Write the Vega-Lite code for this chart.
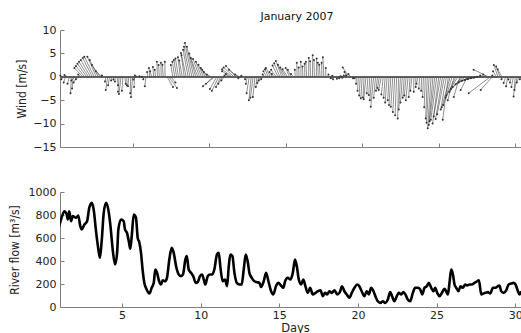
{
"$schema": "https://vega.github.io/schema/vega-lite/v6.json",
"background": "white",
"padding": {"left": 7, "top": 11, "right": 0, "bottom": 0},
"spacing": 45,
"bounds": "flush",
"config": {
  "view": {"stroke": null},
  "axis": {"domainColor": "#808080", "tickColor": "#808080", "tickSize": -4, "labelFont": "DejaVu Sans", "labelFontSize": 11, "labelColor": "#222", "labelOverlap": false, "labelFlush": false, "grid": false, "titleFont": "Liberation Sans Narrow, DejaVu Sans Condensed, Roboto, sans-serif", "titleFontSize": 12, "titleFontWeight": "normal", "titleColor": "#222"}
},
"datasets": {
"wind": [
{"t":0.375,"e":0.28,"v":0.3},{"t":0.5,"e":0.35,"v":-0.5},{"t":0.625,"e":0.5,"v":-1.2},{"t":0.75,"e":0.55,"v":0.4},{"t":0.875,"e":0.75,"v":-1.5},{"t":1.0,"e":0.95,"v":-3.5},{"t":1.125,"e":1.05,"v":-2.5},{"t":1.25,"e":1.0,"v":-0.8},{"t":1.375,"e":1.15,"v":-1.2},{"t":1.5,"e":1.3,"v":-0.5},{"t":1.625,"e":1.45,"v":0.5},
{"t":1.75,"e":1.2,"v":1.9},{"t":1.875,"e":1.3,"v":2.3},{"t":2.0,"e":1.4,"v":2.8},{"t":2.125,"e":1.5,"v":3.2},{"t":2.25,"e":1.62,"v":3.6},{"t":2.375,"e":1.75,"v":4.0},{"t":2.5,"e":1.85,"v":4.3},{"t":2.625,"e":2.05,"v":4.3},{"t":2.75,"e":2.2,"v":3.6},{"t":2.875,"e":2.35,"v":2.5},{"t":3.0,"e":2.6,"v":1.2},{"t":3.125,"e":3.0,"v":0.3},
{"t":3.25,"e":3.2,"v":-1.0},{"t":3.375,"e":3.25,"v":-2.8},{"t":3.5,"e":3.4,"v":-1.8},{"t":3.625,"e":3.6,"v":-0.8},{"t":3.75,"e":3.75,"v":-0.6},{"t":3.875,"e":3.85,"v":-1.0},{"t":4.0,"e":4.05,"v":-1.8},{"t":4.125,"e":4.05,"v":-3.2},{"t":4.25,"e":4.11,"v":-3.7},{"t":4.375,"e":4.3,"v":-3.0},{"t":4.5,"e":4.55,"v":-1.5},{"t":4.625,"e":4.63,"v":-1.8},{"t":4.75,"e":4.7,"v":-2.0},{"t":4.875,"e":4.85,"v":-3.5},{"t":5.0,"e":4.9,"v":-4.3},{"t":5.125,"e":5.1,"v":-2.2},{"t":5.25,"e":5.05,"v":-0.6},{"t":5.375,"e":5.15,"v":0.3},{"t":5.5,"e":5.45,"v":0.1},{"t":5.625,"e":5.6,"v":0},
{"t":5.75,"e":5.7,"v":-0.5},{"t":5.875,"e":5.8,"v":-2.0},{"t":6.0,"e":5.95,"v":1.0},{"t":6.125,"e":6.07,"v":1.9},{"t":6.25,"e":6.15,"v":1.2},{"t":6.375,"e":6.33,"v":2.1},{"t":6.5,"e":6.45,"v":1.5},{"t":6.625,"e":6.59,"v":3.2},{"t":6.75,"e":6.7,"v":2.5},{"t":6.875,"e":6.85,"v":3.0},{"t":7.0,"e":6.95,"v":2.6},{"t":7.125,"e":7.11,"v":3.2},{"t":7.25,"e":7.64,"v":-2.2},{"t":7.375,"e":7.9,"v":-2.4},{"t":7.5,"e":7.8,"v":-1.2},
{"t":7.625,"e":7.5,"v":2.5},{"t":7.75,"e":7.6,"v":3.2},{"t":7.875,"e":7.7,"v":3.6},{"t":8.0,"e":7.8,"v":3.9},{"t":8.125,"e":7.96,"v":4.2},{"t":8.25,"e":8.05,"v":3.5},{"t":8.375,"e":8.16,"v":5.1},{"t":8.5,"e":8.2,"v":4.6},{"t":8.625,"e":8.3,"v":5.8},{"t":8.75,"e":8.36,"v":6.4},{"t":8.875,"e":8.42,"v":7.2},{"t":9.0,"e":8.55,"v":6.4},{"t":9.125,"e":8.7,"v":5.0},{"t":9.25,"e":8.81,"v":4.0},{"t":9.375,"e":8.95,"v":3.8},{"t":9.5,"e":9.14,"v":3.2},{"t":9.625,"e":9.3,"v":2.6},{"t":9.75,"e":9.46,"v":1.9},{"t":9.875,"e":9.55,"v":1.5},{"t":10.0,"e":9.66,"v":1.0},{"t":10.125,"e":9.85,"v":0.5},
{"t":10.25,"e":9.8,"v":-1.5},{"t":10.375,"e":9.6,"v":-2.0},{"t":10.5,"e":10.05,"v":-2.6},{"t":10.625,"e":10.18,"v":-3.0},{"t":10.75,"e":10.45,"v":-2.2},{"t":10.875,"e":10.6,"v":-1.5},{"t":11.0,"e":10.8,"v":-0.8},
{"t":11.125,"e":11.0,"v":0.3},{"t":11.25,"e":11.1,"v":0.6},{"t":11.375,"e":10.85,"v":1.2},{"t":11.5,"e":10.85,"v":1.6},{"t":11.625,"e":10.95,"v":2.0},{"t":11.75,"e":11.1,"v":2.3},{"t":11.875,"e":11.3,"v":1.5},{"t":12.0,"e":11.7,"v":0.5},{"t":12.125,"e":11.9,"v":-0.3},{"t":12.25,"e":12.1,"v":0.2},
{"t":12.375,"e":12.35,"v":-0.5},{"t":12.5,"e":12.4,"v":-1.5},{"t":12.625,"e":12.45,"v":-3.5},{"t":12.75,"e":12.6,"v":-5.0},{"t":12.875,"e":12.7,"v":-4.5},{"t":13.0,"e":12.86,"v":-4.3},{"t":13.125,"e":13.05,"v":-2.2},{"t":13.25,"e":13.15,"v":-1.3},{"t":13.375,"e":13.25,"v":-0.8},{"t":13.5,"e":13.4,"v":-0.5},
{"t":13.625,"e":13.5,"v":0.5},{"t":13.75,"e":13.55,"v":1.2},{"t":13.875,"e":13.65,"v":1.6},{"t":14.0,"e":13.71,"v":1.9},{"t":14.125,"e":13.95,"v":1.0},{"t":14.25,"e":14.1,"v":0.6},{"t":14.375,"e":14.05,"v":1.5},{"t":14.5,"e":14.15,"v":2.4},{"t":14.625,"e":14.25,"v":2.9},{"t":14.75,"e":14.36,"v":3.4},{"t":14.875,"e":14.5,"v":2.6},{"t":15.0,"e":14.65,"v":2.0},{"t":15.125,"e":14.8,"v":1.6},{"t":15.25,"e":15.0,"v":1.9},{"t":15.375,"e":15.14,"v":1.5},{"t":15.5,"e":15.35,"v":0.6},
{"t":15.625,"e":15.6,"v":1.5},{"t":15.75,"e":15.73,"v":3.0},{"t":15.875,"e":15.85,"v":2.0},{"t":16.0,"e":15.99,"v":3.2},{"t":16.125,"e":16.1,"v":2.2},{"t":16.25,"e":16.24,"v":2.8},{"t":16.375,"e":16.32,"v":3.2},{"t":16.5,"e":16.51,"v":4.0},{"t":16.625,"e":16.6,"v":3.3},{"t":16.75,"e":16.77,"v":4.6},{"t":16.875,"e":16.85,"v":3.6},{"t":17.0,"e":17.03,"v":3.9},{"t":17.125,"e":17.1,"v":3.0},{"t":17.25,"e":17.2,"v":2.6},{"t":17.375,"e":17.35,"v":3.0},{"t":17.5,"e":17.43,"v":4.2},{"t":17.625,"e":17.62,"v":1.9},{"t":17.75,"e":17.8,"v":0.5},
{"t":17.875,"e":17.95,"v":-0.3},{"t":18.0,"e":18.1,"v":-0.5},{"t":18.125,"e":18.05,"v":0.2},{"t":18.25,"e":18.35,"v":-0.4},{"t":18.375,"e":18.5,"v":-0.3},{"t":18.5,"e":18.6,"v":0.1},{"t":18.625,"e":18.7,"v":-0.2},{"t":18.75,"e":18.8,"v":0.3},{"t":18.875,"e":18.95,"v":0.3},{"t":19.0,"e":18.85,"v":1.0},{"t":19.125,"e":18.73,"v":2.0},{"t":19.25,"e":19.1,"v":0.6},{"t":19.375,"e":19.4,"v":-0.3},
{"t":19.5,"e":19.5,"v":-0.3},{"t":19.625,"e":19.6,"v":-1.5},{"t":19.75,"e":19.7,"v":-3.0},{"t":19.875,"e":19.8,"v":-4.0},{"t":20.0,"e":19.91,"v":-4.6},{"t":20.125,"e":20.05,"v":-4.4},{"t":20.25,"e":20.1,"v":-4.8},{"t":20.375,"e":20.3,"v":-3.5},{"t":20.5,"e":20.43,"v":-3.9},{"t":20.625,"e":20.5,"v":-5.0},{"t":20.75,"e":20.56,"v":-6.4},{"t":20.875,"e":20.75,"v":-4.5},{"t":21.0,"e":20.9,"v":-3.0},{"t":21.125,"e":21.0,"v":-2.4},{"t":21.25,"e":21.08,"v":-2.8},{"t":21.375,"e":21.25,"v":-3.8},{"t":21.5,"e":21.4,"v":-4.5},{"t":21.625,"e":21.5,"v":-5.5},{"t":21.75,"e":21.67,"v":-5.0},{"t":21.875,"e":21.75,"v":-6.0},{"t":22.0,"e":21.87,"v":-6.4},{"t":22.125,"e":22.0,"v":-7.5},{"t":22.25,"e":22.15,"v":-8.2},{"t":22.375,"e":22.32,"v":-8.9},{"t":22.5,"e":22.39,"v":-7.0},{"t":22.625,"e":22.5,"v":-5.5},{"t":22.75,"e":22.65,"v":-4.5},{"t":22.875,"e":22.75,"v":-4.0},{"t":23.0,"e":22.85,"v":-5.0},{"t":23.125,"e":23.04,"v":-4.3},{"t":23.25,"e":23.15,"v":-3.0},{"t":23.375,"e":23.37,"v":-3.2},{"t":23.5,"e":23.5,"v":-2.2},{"t":23.625,"e":23.55,"v":-1.5},{"t":23.75,"e":23.7,"v":-2.5},
{"t":23.875,"e":23.85,"v":-3.0},{"t":24.0,"e":23.95,"v":-4.3},{"t":24.125,"e":24.05,"v":-6.5},{"t":24.25,"e":24.15,"v":-8.9},{"t":24.375,"e":24.2,"v":-9.8},{"t":24.5,"e":24.28,"v":-11.0},{"t":24.625,"e":24.35,"v":-10.3},{"t":24.75,"e":24.4,"v":-9.5},{"t":24.875,"e":24.48,"v":-9.2},{"t":25.0,"e":24.6,"v":-10.0},{"t":25.125,"e":24.67,"v":-8.5},{"t":25.25,"e":24.8,"v":-9.0},{"t":25.375,"e":24.9,"v":-8.0},{"t":25.5,"e":25.13,"v":-7.0},{"t":25.625,"e":25.26,"v":-9.2},{"t":25.75,"e":25.2,"v":-6.5},{"t":25.875,"e":25.3,"v":-6.0},{"t":26.0,"e":25.59,"v":-5.0},{"t":26.125,"e":25.45,"v":-4.5},{"t":26.25,"e":25.5,"v":-4.0},{"t":26.375,"e":25.98,"v":-4.3},{"t":26.5,"e":25.7,"v":-3.2},{"t":26.625,"e":25.8,"v":-2.6},{"t":26.75,"e":25.9,"v":-2.2},{"t":26.875,"e":26.43,"v":-2.8},{"t":27.0,"e":26.1,"v":-1.6},{"t":27.125,"e":26.3,"v":-1.2},{"t":27.25,"e":26.5,"v":-0.9},{"t":27.375,"e":26.7,"v":-0.7},{"t":27.5,"e":26.9,"v":-0.5},{"t":27.625,"e":27.1,"v":-0.3},{"t":27.75,"e":27.3,"v":-0.2},{"t":27.875,"e":27.5,"v":0.0},
{"t":28.0,"e":27.7,"v":0.3},{"t":28.125,"e":27.9,"v":0.5},{"t":28.25,"e":27.28,"v":1.5},{"t":28.375,"e":26.96,"v":-3.5},{"t":28.5,"e":27.74,"v":-2.8},{"t":28.625,"e":28.5,"v":0.3},{"t":28.75,"e":28.55,"v":1.2},{"t":28.875,"e":28.6,"v":2.5},{"t":29.0,"e":28.75,"v":2.2},{"t":29.125,"e":28.85,"v":1.6},{"t":29.25,"e":29.1,"v":-0.5},{"t":29.375,"e":29.24,"v":-1.3},{"t":29.5,"e":29.4,"v":-2.0},{"t":29.625,"e":29.55,"v":-0.6},{"t":29.75,"e":29.65,"v":-1.2},{"t":29.875,"e":29.75,"v":-2.2},{"t":30.0,"e":29.89,"v":-4.2},{"t":30.125,"e":29.95,"v":-2.8},{"t":30.25,"e":30.1,"v":-1.2},{"t":30.375,"e":30.3,"v":-0.5}
],
"flow": [
{"d":1.0,"q":700},{"d":1.23,"q":804},{"d":1.33,"q":833},{"d":1.49,"q":804},{"d":1.55,"q":761},{"d":1.65,"q":833},{"d":1.76,"q":746},{"d":1.87,"q":790},{"d":2.08,"q":776},{"d":2.22,"q":796},{"d":2.35,"q":703},{"d":2.44,"q":674},{"d":2.61,"q":717},{"d":2.78,"q":746},{"d":2.92,"q":862},{"d":3.08,"q":906},{"d":3.2,"q":848},{"d":3.35,"q":659},{"d":3.5,"q":500},{"d":3.6,"q":428},{"d":3.71,"q":572},{"d":3.84,"q":819},{"d":3.99,"q":906},{"d":4.13,"q":848},{"d":4.26,"q":717},{"d":4.41,"q":500},{"d":4.56,"q":370},{"d":4.69,"q":471},{"d":4.77,"q":674},{"d":4.94,"q":761},{"d":5.11,"q":746},{"d":5.19,"q":674},{"d":5.32,"q":645},{"d":5.45,"q":558},{"d":5.53,"q":506},{"d":5.62,"q":616},{"d":5.75,"q":804},{"d":5.89,"q":776},{"d":6.0,"q":601},{"d":6.1,"q":563},{"d":6.21,"q":471},{"d":6.32,"q":311},{"d":6.42,"q":210},{"d":6.57,"q":152},{"d":6.74,"q":117},{"d":6.89,"q":167},{"d":7.02,"q":210},{"d":7.12,"q":326},{"d":7.23,"q":297},{"d":7.36,"q":224},{"d":7.48,"q":196},{"d":7.59,"q":233},{"d":7.74,"q":224},{"d":7.86,"q":254},{"d":8.01,"q":413},{"d":8.16,"q":515},{"d":8.29,"q":471},{"d":8.44,"q":355},{"d":8.61,"q":283},{"d":8.76,"q":268},{"d":8.88,"q":283},{"d":9.03,"q":413},{"d":9.12,"q":442},{"d":9.24,"q":326},{"d":9.39,"q":297},{"d":9.53,"q":268},{"d":9.69,"q":210},{"d":9.81,"q":216},{"d":9.96,"q":268},{"d":10.09,"q":283},{"d":10.2,"q":239},{"d":10.3,"q":196},{"d":10.45,"q":268},{"d":10.6,"q":283},{"d":10.75,"q":283},{"d":10.87,"q":326},{"d":11.04,"q":457},{"d":11.15,"q":471},{"d":11.25,"q":355},{"d":11.4,"q":224},{"d":11.55,"q":239},{"d":11.68,"q":181},{"d":11.79,"q":355},{"d":11.89,"q":457},{"d":12.02,"q":442},{"d":12.15,"q":297},{"d":12.3,"q":210},{"d":12.46,"q":196},{"d":12.61,"q":196},{"d":12.74,"q":326},{"d":12.87,"q":457},{"d":12.99,"q":398},{"d":13.1,"q":297},{"d":13.25,"q":254},{"d":13.42,"q":224},{"d":13.59,"q":216},{"d":13.74,"q":210},{"d":13.84,"q":174},{"d":14.01,"q":224},{"d":14.16,"q":297},{"d":14.31,"q":224},{"d":14.48,"q":137},{"d":14.62,"q":109},{"d":14.79,"q":181},{"d":14.94,"q":210},{"d":15.11,"q":187},{"d":15.26,"q":167},{"d":15.37,"q":224},{"d":15.54,"q":254},{"d":15.7,"q":239},{"d":15.86,"q":297},{"d":16.0,"q":413},{"d":16.13,"q":341},{"d":16.24,"q":239},{"d":16.39,"q":196},{"d":16.53,"q":239},{"d":16.66,"q":181},{"d":16.81,"q":123},{"d":16.96,"q":167},{"d":17.13,"q":109},{"d":17.3,"q":123},{"d":17.45,"q":137},{"d":17.62,"q":146},{"d":17.77,"q":94},{"d":17.91,"q":123},{"d":18.04,"q":109},{"d":18.19,"q":137},{"d":18.34,"q":123},{"d":18.51,"q":146},{"d":18.68,"q":109},{"d":18.85,"q":129},{"d":18.99,"q":181},{"d":19.14,"q":137},{"d":19.29,"q":109},{"d":19.46,"q":80},{"d":19.61,"q":123},{"d":19.78,"q":167},{"d":19.95,"q":196},{"d":20.09,"q":181},{"d":20.24,"q":137},{"d":20.41,"q":94},{"d":20.56,"q":137},{"d":20.69,"q":109},{"d":20.84,"q":167},{"d":20.99,"q":137},{"d":21.11,"q":94},{"d":21.26,"q":50},{"d":21.43,"q":36},{"d":21.58,"q":50},{"d":21.73,"q":36},{"d":21.9,"q":65},{"d":22.05,"q":129},{"d":22.17,"q":94},{"d":22.32,"q":50},{"d":22.47,"q":94},{"d":22.6,"q":123},{"d":22.75,"q":109},{"d":22.89,"q":129},{"d":23.02,"q":109},{"d":23.17,"q":65},{"d":23.32,"q":50},{"d":23.49,"q":123},{"d":23.64,"q":167},{"d":23.81,"q":167},{"d":23.96,"q":152},{"d":24.09,"q":109},{"d":24.23,"q":167},{"d":24.38,"q":181},{"d":24.51,"q":210},{"d":24.66,"q":167},{"d":24.8,"q":137},{"d":24.91,"q":167},{"d":25.04,"q":123},{"d":25.19,"q":94},{"d":25.34,"q":123},{"d":25.5,"q":158},{"d":25.61,"q":137},{"d":25.72,"q":109},{"d":25.82,"q":210},{"d":25.93,"q":326},{"d":26.04,"q":283},{"d":26.14,"q":196},{"d":26.25,"q":167},{"d":26.39,"q":137},{"d":26.52,"q":181},{"d":26.67,"q":167},{"d":26.82,"q":196},{"d":26.95,"q":187},{"d":27.09,"q":196},{"d":27.24,"q":196},{"d":27.41,"q":210},{"d":27.58,"q":224},{"d":27.69,"q":233},{"d":27.84,"q":109},{"d":27.98,"q":117},{"d":28.11,"q":123},{"d":28.26,"q":129},{"d":28.41,"q":117},{"d":28.58,"q":167},{"d":28.75,"q":167},{"d":28.9,"q":181},{"d":29.0,"q":187},{"d":29.11,"q":137},{"d":29.28,"q":123},{"d":29.43,"q":146},{"d":29.58,"q":196},{"d":29.75,"q":204},{"d":29.89,"q":210},{"d":30.02,"q":196},{"d":30.17,"q":137},{"d":30.27,"q":109},{"d":30.38,"q":137}
]
},
"vconcat": [
{
  "width": 462, "height": 117,
  "title": {"text": "January 2007", "font": "DejaVu Sans", "fontSize": 11, "fontWeight": "normal", "color": "#111", "offset": 2, "dx": 6},
  "data": {"name": "wind"},
  "encoding": {
    "x": {"field": "e", "type": "quantitative", "scale": {"domain": [0.26, 30.44], "nice": false, "zero": false},
          "axis": {"values": [5,10,15,20,25,30], "labels": false, "title": null}},
    "y": {"field": "v", "type": "quantitative", "scale": {"domain": [-15, 10], "nice": false},
          "axis": {"values": [-15,-10,-5,0,5,10], "format": "d", "labelOverlap": false, "labelBound": false, "title": "Wind [m/s]", "titleX": -39, "titleBaseline": "middle", "labelPadding": 8}}
  },
  "layer": [
    {"mark": {"type": "rule", "color": "#666", "strokeWidth": 0.8},
     "encoding": {"x": {"datum": 0.26, "type": "quantitative"}, "x2": {"datum": 30.44}, "y": {"datum": 0, "type": "quantitative"}}},
    {"mark": {"type": "rule", "color": "#444", "strokeWidth": 0.6},
     "encoding": {"x2": {"field": "t"}, "y2": {"datum": 0}}},
    {"mark": {"type": "point", "filled": true, "size": 4, "color": "#333", "opacity": 1}}
  ]
},
{
  "width": 462, "height": 115,
  "data": {"name": "flow"},
  "mark": {"type": "line", "color": "#000", "strokeWidth": 2.6, "interpolate": "monotone", "clip": true},
  "encoding": {
    "x": {"field": "d", "type": "quantitative", "scale": {"domain": [1.06, 30.43], "nice": false, "zero": false},
          "axis": {"values": [5,10,15,20,25,30], "format": "d", "labelOverlap": false, "title": "Days", "titleFont": "DejaVu Sans", "titleFontSize": 11.5, "titleX": 235, "titleY": 21, "titleBaseline": "middle", "labelPadding": 6}},
    "y": {"field": "q", "type": "quantitative", "scale": {"domain": [0, 1000], "nice": false},
          "axis": {"values": [0,200,400,600,800,1000], "format": "d", "labelOverlap": false, "title": "River flow [m³/s]", "titleX": -46, "titleBaseline": "middle", "labelPadding": 8}}
  }
}
]
}
